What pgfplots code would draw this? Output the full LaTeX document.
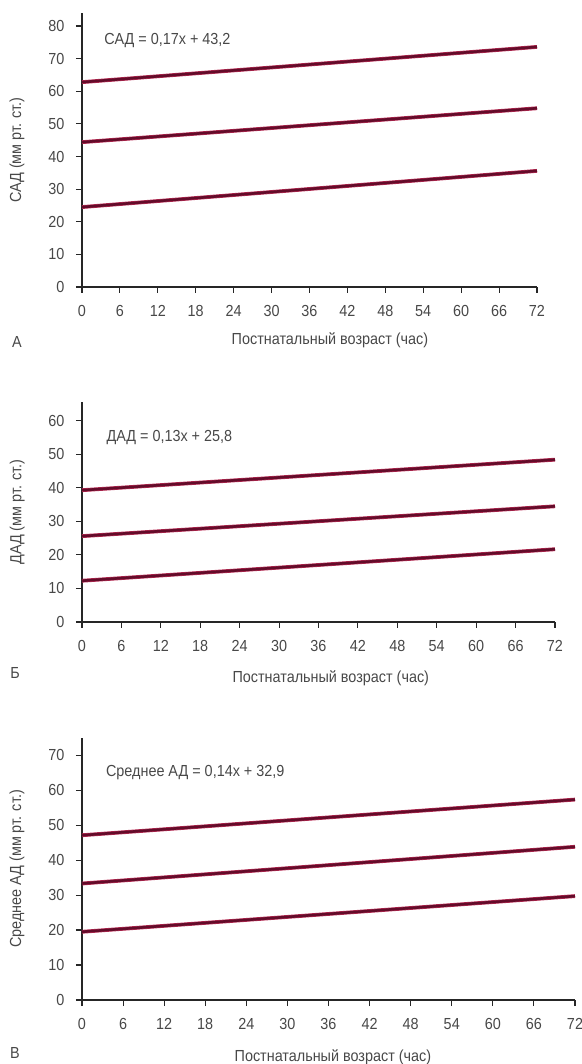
\documentclass[border=0pt]{standalone}
\usepackage{fontspec}
\setmainfont[FakeStretch=0.9]{Liberation Sans}
\usepackage{pgfplots}
\pgfplotsset{compat=1.18}

\definecolor{trend}{RGB}{100,12,42}
\definecolor{trendedge}{RGB}{185,45,85}
\definecolor{txt}{RGB}{72,72,72}
\newcommand{\chartfont}{\fontsize{16bp}{17bp}\selectfont}

\pgfplotsset{
  bppanel/.style={
    scale only axis,
    axis lines=left,
    axis line style={line width=1.2bp, black!85, -},
    xmin=0, xmax=72, ymin=0,
    xtick={0,6,...,72},
    tick align=outside,
    major tick length=6bp,
    tick style={line width=1.1bp, black!85},
    tick label style={font=\chartfont, text=txt},
    /pgf/number format/assume math mode=true,
    xticklabel shift=9bp,
    yticklabel shift=8bp,
    clip=false,
  },
  trendline/.style={trend, line width=2.6bp, no marks,
    preaction={draw=trendedge, line width=3.8bp}},
}

\begin{document}
\begin{tikzpicture}
\path[use as bounding box] (0,0) rectangle (582bp,1064bp);

% Panel A: systolic pressure
\begin{axis}[bppanel,
  at={(82bp,777bp)}, anchor=origin,
  width=455bp, height=274bp,
  ymax=84, ytick={0,10,...,80},
  xlabel={Постнатальный возраст (час)},
  ylabel={САД (мм рт. ст.)},
  every axis x label/.style={at={(axis description cs:0.545,0)}, anchor=center, yshift=-53bp, font=\chartfont, text=txt},
  every axis y label/.style={at={(axis description cs:-0.143,0.5)}, anchor=center, rotate=90, font=\chartfont, text=txt},
]
\addplot[trendline] coordinates {(0,62.8) (72,73.6)};
\addplot[trendline] coordinates {(0,44.4) (72,54.8)};
\addplot[trendline] coordinates {(0,24.5) (72,35.6)};
\node[anchor=west, font=\chartfont, text=txt] at (axis cs:3.0,75.7) {САД = 0,17x + 43,2};
\end{axis}

% Panel B: diastolic pressure
\begin{axis}[bppanel,
  at={(82bp,442bp)}, anchor=origin,
  width=473bp, height=220bp,
  ymax=65.6, ytick={0,10,...,60},
  xlabel={Постнатальный возраст (час)},
  ylabel={ДАД (мм рт. ст.)},
  every axis x label/.style={at={(axis description cs:0.526,0)}, anchor=center, yshift=-56bp, font=\chartfont, text=txt},
  every axis y label/.style={at={(axis description cs:-0.137,0.5)}, anchor=center, rotate=90, font=\chartfont, text=txt},
]
\addplot[trendline] coordinates {(0,39.3) (72,48.4)};
\addplot[trendline] coordinates {(0,25.6) (72,34.5)};
\addplot[trendline] coordinates {(0,12.3) (72,21.7)};
\node[anchor=west, font=\chartfont, text=txt] at (axis cs:3.2,54.9) {ДАД = 0,13x + 25,8};
\end{axis}

% Panel C: mean pressure
\begin{axis}[bppanel,
  at={(82bp,64bp)}, anchor=origin,
  width=493bp, height=262bp,
  ymax=74.9, ytick={0,10,...,70},
  xlabel={Постнатальный возраст (час)},
  ylabel={Среднее АД (мм рт. ст.)},
  every axis x label/.style={at={(axis description cs:0.509,0)}, anchor=center, yshift=-57bp, font=\chartfont, text=txt},
  every axis y label/.style={at={(axis description cs:-0.132,0.5)}, anchor=center, rotate=90, font=\chartfont, text=txt},
]
\addplot[trendline] coordinates {(0,47.1) (72,57.3)};
\addplot[trendline] coordinates {(0,33.3) (72,43.8)};
\addplot[trendline] coordinates {(0,19.5) (72,29.7)};
\node[anchor=west, font=\chartfont, text=txt] at (axis cs:3.0,65.1) {Среднее АД = 0,14x + 32,9};
\end{axis}

% Panel letters
\node[font=\fontsize{16bp}{17bp}\selectfont, text=txt] at (17bp,722bp) {А};
\node[font=\fontsize{16bp}{17bp}\selectfont, text=txt] at (15bp,391bp) {Б};
\node[font=\fontsize{16bp}{17bp}\selectfont, text=txt] at (15bp,11bp) {В};
\end{tikzpicture}
\end{document}
